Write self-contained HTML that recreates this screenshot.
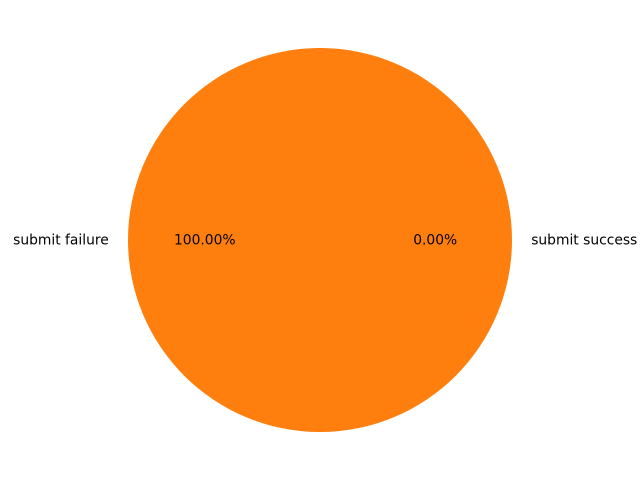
<!DOCTYPE html>
<html>
<head>
<meta charset="utf-8">
<style>
  html, body { margin: 0; padding: 0; background: #ffffff; }
  svg { display: block; }
  text { font-family: "DejaVu Sans", "Liberation Sans", sans-serif; font-size: 13.85px; fill: #000; }
</style>
</head>
<body>
<svg id="chart" width="640" height="480" viewBox="0 0 640 480"></svg>
<script>
const categories = ["submit success", "submit failure"];
const values = [0, 100];
const colors = ["#1f77b4", "#ff7f0e"];

const svg = document.getElementById('chart');
const NS = 'http://www.w3.org/2000/svg';
const cx = 320, cy = 240, R = 192;
const total = values.reduce((a, b) => a + b, 0);
function pt(angDeg, r) {
  const a = angDeg * Math.PI / 180;
  return [cx + r * Math.cos(a), cy - r * Math.sin(a)];
}
const labels = [];
let start = 0;
values.forEach((v, i) => {
  const frac = total ? v / total : 0;
  const sweep = frac * 360;
  const end = start + sweep;
  let el;
  if (frac >= 0.9999) {
    el = document.createElementNS(NS, 'circle');
    el.setAttribute('cx', cx); el.setAttribute('cy', cy); el.setAttribute('r', R);
  } else {
    el = document.createElementNS(NS, 'path');
    const [x1, y1] = pt(start, R), [x2, y2] = pt(end, R);
    const large = sweep > 180 ? 1 : 0;
    el.setAttribute('d', `M${cx},${cy} L${x1},${y1} A${R},${R} 0 ${large} 0 ${x2},${y2} Z`);
  }
  el.setAttribute('fill', colors[i]);
  
  
  svg.appendChild(el);
  labels.push({ mid: start + sweep / 2, frac: frac, i: i });
  start = end;
});
labels.forEach(o => {
  const [lx, ly] = pt(o.mid, R * 1.1);
  const lab = document.createElementNS(NS, 'text');
  lab.setAttribute('x', lx);
  lab.setAttribute('y', ly + 4.5);
  lab.setAttribute('text-anchor', Math.cos(o.mid * Math.PI / 180) >= 0 ? 'start' : 'end');
  lab.textContent = categories[o.i];
  
  
  svg.appendChild(lab);

  const [px, py] = pt(o.mid, R * 0.6);
  const pct = document.createElementNS(NS, 'text');
  pct.setAttribute('x', px);
  pct.setAttribute('y', py + 4.5);
  pct.setAttribute('text-anchor', 'middle');
  pct.textContent = (o.frac * 100).toFixed(2) + '%';
  
  
  svg.appendChild(pct);
});
</script>
</body>
</html>
